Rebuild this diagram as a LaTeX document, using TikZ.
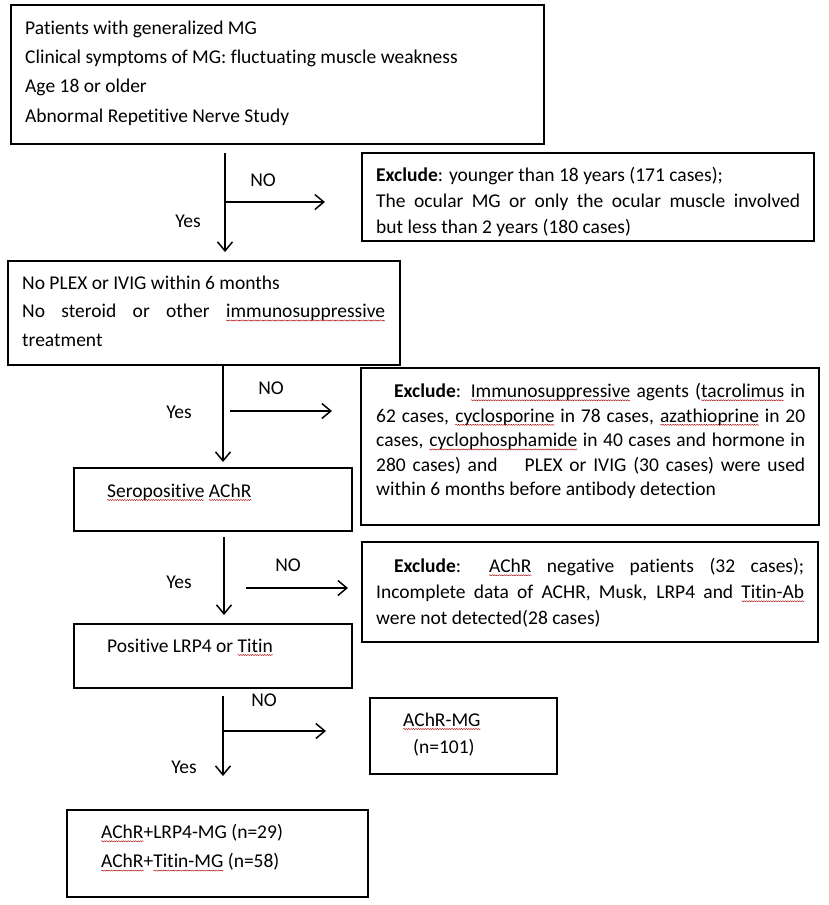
\documentclass[tikz,border=0pt]{standalone}
\usepackage{fontspec}
\setmainfont{Carlito}[Ligatures={NoCommon}]
\usetikzlibrary{arrows.meta,decorations.pathmorphing}
\newcommand\fsA{\fontsize{19.5}{29.3}\selectfont}
\newcommand\fsB{\fontsize{19.5}{26}\selectfont}
\newcommand\fsC{\fontsize{19.5}{24.6}\selectfont}
\newcommand\fsD{\fontsize{19.5}{26}\selectfont}
\newcommand\fsE{\fontsize{19.5}{28.5}\selectfont}
\newcommand\strt{\rule{0pt}{14pt}}
\tikzset{
  box/.style={draw, line width=1.6pt, inner sep=0pt, anchor=north west},
  txt/.style={inner sep=0pt, anchor=north west, align=left},
  just/.style={inner sep=0pt, anchor=north west, text width=#1, align=justify},
  arr/.style={line width=1.5pt, -{Straight Barb[length=9pt,width=15pt,line width=1.5pt]}},
  lbl/.style={inner sep=0pt, anchor=base, font=\fsA},
  squig/.style={red!65!black, line width=0.4pt, decorate, decoration={snake, amplitude=0.55pt, segment length=2.4pt}}
}
\newcommand\sq[1]{\tikz[baseline=(w.base)]{\node[inner sep=0pt,outer sep=0pt] (w) {#1};\draw[squig,overlay] ([yshift=-2.8pt]w.base west) -- ([yshift=-2.8pt]w.base east);}}
\begin{document}
\begin{tikzpicture}[x=1pt,y=-1pt]
\fill[white] (0,0) rectangle (829,905);
\useasboundingbox (0,0) rectangle (829,905);
% boxes
\node[box, minimum width=533pt, minimum height=139pt] (b1) at (10,4) {};
\node[box, minimum width=452pt, minimum height=88pt] (e1) at (361,152) {};
\node[box, minimum width=392pt, minimum height=104pt] (b2) at (7,260) {};
\node[box, minimum width=458pt, minimum height=157pt] (e2) at (360,367) {};
\node[box, minimum width=278pt, minimum height=63pt] (b3) at (73,467) {};
\node[box, minimum width=456pt, minimum height=100pt] (e3) at (361,541) {};
\node[box, minimum width=278pt, minimum height=64pt] (b4) at (73,623) {};
\node[box, minimum width=187pt, minimum height=76pt] (b5) at (369,697) {};
\node[box, minimum width=301pt, minimum height=87pt] (b6) at (66,809) {};
% texts
\node[txt, font=\fsA] (t1) at (25,20) {\strt Patients with generalized MG\\Clinical symptoms of MG: fluctuating muscle weakness\\Age 18 or older\\Abnormal Repetitive Nerve Study};
\node[just=424pt, font=\fsB] (te1) at (376,167) {\strt\textbf{Exclude}: younger than 18 years (171 cases);\\The ocular MG or only the ocular muscle involved\linebreak but less than 2 years (180 cases)};
\node[just=363pt, font=\fsE] (t2) at (22,275) {\strt No PLEX or IVIG within 6 months\\No steroid or other \sq{immunosuppressive}\linebreak treatment};
\node[just=429pt, font=\fsC] (te2) at (376,383) {\strt\hspace*{18pt}\textbf{Exclude}: \sq{Immunosuppressive} agents (\sq{tacrolimus} in\linebreak 62 cases, \sq{cyclosporine} in 78 cases, \sq{azathioprine} in 20\linebreak cases, \sq{cyclophosphamide} in 40 cases and hormone in\linebreak 280 cases) and \ \ \ PLEX or IVIG (30 cases) were used\linebreak within 6 months before antibody detection};
\node[txt, font=\fsA] (t3) at (107,483) {\strt\sq{Seropositive} \sq{AChR}};
\node[just=428pt, font=\fsD] (te3) at (376,558) {\strt\hspace*{18pt}\textbf{Exclude}: \sq{AChR} negative patients (32 cases);\linebreak Incomplete data of ACHR, Musk, LRP4 and \sq{Titin-Ab}\linebreak were not detected(28 cases)};
\node[txt, font=\fsA] (t4) at (107,638) {\strt Positive LRP4 or \sq{Titin}};
\node[txt, font=\fsA] (t5a) at (403,712) {\strt\sq{AChR-MG}};
\node[txt, font=\fsA] (t5b) at (413,739) {\strt(n=101)};
\node[txt, font=\fsA] (t6) at (101,824) {\strt\sq{AChR}+LRP4-MG (n=29)\\\sq{AChR}+\sq{Titin-MG} (n=58)};
% connectors
\coordinate (a1s) at (225,153); \coordinate (a1e) at (225,252);
\coordinate (a1b) at (225,202); \coordinate (a1h) at (325,202);
\draw[arr] (a1s) -- (a1e);
\draw[arr] (a1b) -- (a1h);
\node[lbl] (no1) at (263,186) {NO};
\node[lbl] (yes1) at (188,227) {Yes};
\coordinate (a2s) at (223,364); \coordinate (a2e) at (223,462);
\coordinate (a2b) at (230,411); \coordinate (a2h) at (332,411);
\draw[arr] (a2s) -- (a2e);
\draw[arr] (a2b) -- (a2h);
\node[lbl] (no2) at (271,394) {NO};
\node[lbl] (yes2) at (179,418) {Yes};
\coordinate (a3s) at (224,537); \coordinate (a3e) at (224,615);
\coordinate (a3b) at (246,588); \coordinate (a3h) at (348,588);
\draw[arr] (a3s) -- (a3e);
\draw[arr] (a3b) -- (a3h);
\node[lbl] (no3) at (288,571) {NO};
\node[lbl] (yes3) at (179,588) {Yes};
\coordinate (a4s) at (223,696); \coordinate (a4e) at (223,776);
\coordinate (a4b) at (223,731); \coordinate (a4h) at (326,731);
\draw[arr] (a4s) -- (a4e);
\draw[arr] (a4b) -- (a4h);
\node[lbl] (no4) at (264,706) {NO};
\node[lbl] (yes4) at (184,773) {Yes};
\end{tikzpicture}
\end{document}
